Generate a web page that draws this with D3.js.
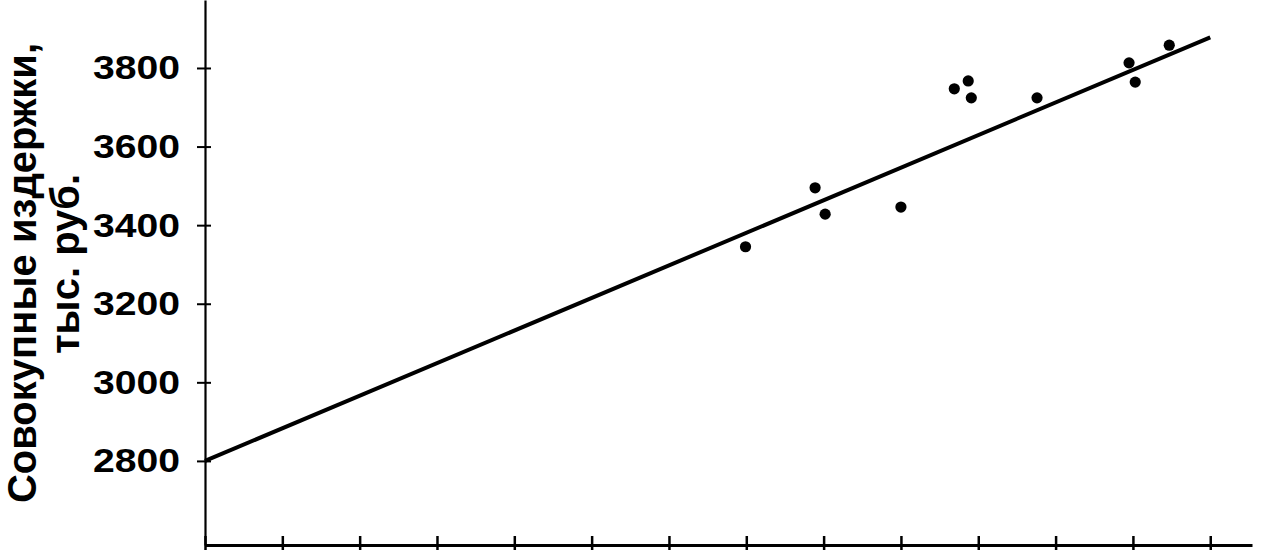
<!DOCTYPE html>
<html>
<head>
<meta charset="utf-8">
<script src="https://cdn.jsdelivr.net/npm/d3@7"></script>
<style>
  body { margin: 0; background: #fff; }
  svg { display: block; }
</style>
</head>
<body>
<svg width="1266" height="550"></svg>
<script>
var width = 1266;
var height = 550;

// observed points: output (x, tick units) vs total costs (y)
var pointX = [6.99, 7.89, 8.02, 9.0, 9.69, 9.87, 9.91, 10.76, 11.95, 12.03, 12.47];
var pointY = [3345, 3495, 3428, 3446, 3747, 3767, 3724, 3724, 3813, 3764, 3858];

// regression line end points
var lineX = [0, 13];
var lineY = [2800, 3878];

// tick values
var yTicks = [2800, 3000, 3200, 3400, 3600, 3800];
var xTicks = [0, 1, 2, 3, 4, 5, 6, 7, 8, 9, 10, 11, 12, 13];

var titleLines = ['Совокупные издержки,', 'тыс. руб.'];

var font = '"Liberation Sans", Arial, sans-serif';

// Setup scales ------------------------------------------------------------
var xScale = d3.scaleLinear().domain([0, 13.54]).range([205, 1252]);
var yScale = d3.scaleLinear().domain([2586, 3973]).range([545, 0]);

var svg = d3.select('svg');

// Axes ---------------------------------------------------------------------
var yAxis = d3.axisLeft(yScale).tickValues(yTicks).tickFormat(d3.format('d')).tickSizeOuter(0);
var yg = svg.append('g').attr('transform', 'translate(205,0)').call(yAxis);
yg.select('.domain').attr('stroke', '#000').attr('stroke-width', 2.2);
yg.selectAll('.tick line').attr('x1', -8).attr('x2', 6).attr('stroke-width', 2);
yg.selectAll('.tick text')
  .attr('x', -25)
  .attr('fill', '#000')
  .style('font-family', font)
  .style('font-weight', 'bold')
  .style('font-size', '34px')
  .attr('textLength', 87)
  .attr('lengthAdjust', 'spacingAndGlyphs');

var xAxis = d3.axisBottom(xScale).tickValues(xTicks).tickFormat('').tickSizeOuter(0);
var xg = svg.append('g').attr('transform', 'translate(0,545)').call(xAxis);
xg.select('.domain').attr('stroke', '#000').attr('stroke-width', 3);
xg.selectAll('.tick line').attr('y1', -9).attr('y2', 5).attr('stroke-width', 2.5);

// Regression line ----------------------------------------------------------
var line = d3.line().x(d => xScale(d[0])).y(d => yScale(d[1]));
svg.append('path')
  .datum(lineX.map((v, i) => [v, lineY[i]]))
  .attr('d', line)
  .attr('fill', 'none')
  .attr('stroke', '#000')
  .attr('stroke-width', 4);

// Points -------------------------------------------------------------------
svg.selectAll('circle.pt').data(pointX).enter().append('circle')
  .attr('class', 'pt')
  .attr('cx', d => xScale(d))
  .attr('cy', (d, i) => yScale(pointY[i]))
  .attr('r', 5.6)
  .attr('fill', '#000');

// Y title ------------------------------------------------------------------
var title = svg.append('text')
  .attr('transform', 'translate(36,273) rotate(-90)')
  .attr('text-anchor', 'middle')
  .style('font-family', font)
  .style('font-weight', 'bold')
  .style('font-size', '40px')
  .attr('fill', '#000');
title.append('tspan').attr('x', 0).attr('y', 0).text(titleLines[0]);
title.append('tspan').attr('x', 9).attr('y', 43).text(titleLines[1]);
</script>
</body>
</html>
